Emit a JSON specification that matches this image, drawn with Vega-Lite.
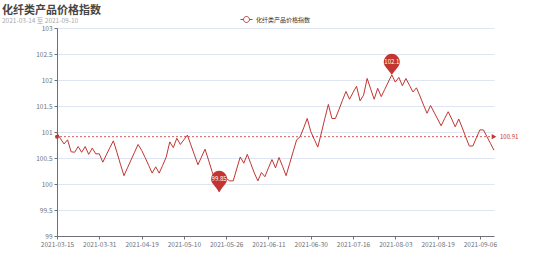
{
  "$schema": "https://vega.github.io/schema/vega-lite/v6.json",
  "width": 437,
  "height": 208,
  "autosize": {"type": "none"},
  "padding": {"left": 57, "top": 28, "right": 60, "bottom": 29},
  "background": "white",
  "config": {
    "font": "Noto Sans CJK SC",
    "view": {"stroke": null}
  },
  "title": {
    "text": "化纤类产品价格指数",
    "subtitle": "2021-03-14 至 2021-09-10",
    "anchor": "start",
    "frame": "group",
    "dx": -55,
    "dy": 15,
    "offset": 4,
    "fontSize": 11,
    "fontWeight": "bold",
    "color": "#464646",
    "subtitleFontSize": 6.5,
    "subtitleColor": "#aaaaaa",
    "subtitlePadding": 2,
    "font": "Noto Sans CJK SC",
    "subtitleFont": "Noto Sans CJK SC"
  },
  "datasets": {
    "series": [
      {"d":"2021-03-15","v":100.98},{"d":"2021-03-16","v":100.87},{"d":"2021-03-17","v":100.77},{"d":"2021-03-18","v":100.85},{"d":"2021-03-19","v":100.62},
      {"d":"2021-03-22","v":100.61},{"d":"2021-03-23","v":100.72},{"d":"2021-03-24","v":100.61},{"d":"2021-03-25","v":100.72},{"d":"2021-03-26","v":100.57},
      {"d":"2021-03-29","v":100.69},{"d":"2021-03-30","v":100.58},{"d":"2021-03-31","v":100.58},{"d":"2021-04-01","v":100.42},{"d":"2021-04-02","v":100.56},
      {"d":"2021-04-06","v":100.70},{"d":"2021-04-07","v":100.83},{"d":"2021-04-08","v":100.61},{"d":"2021-04-09","v":100.38},{"d":"2021-04-12","v":100.16},
      {"d":"2021-04-13","v":100.31},{"d":"2021-04-14","v":100.46},{"d":"2021-04-15","v":100.61},{"d":"2021-04-16","v":100.76},{"d":"2021-04-19","v":100.65},
      {"d":"2021-04-20","v":100.51},{"d":"2021-04-21","v":100.36},{"d":"2021-04-22","v":100.21},{"d":"2021-04-23","v":100.33},{"d":"2021-04-26","v":100.21},
      {"d":"2021-04-27","v":100.36},{"d":"2021-04-28","v":100.52},{"d":"2021-04-29","v":100.81},{"d":"2021-04-30","v":100.70},{"d":"2021-05-06","v":100.88},
      {"d":"2021-05-07","v":100.76},{"d":"2021-05-10","v":100.85},{"d":"2021-05-11","v":100.94},{"d":"2021-05-12","v":100.75},{"d":"2021-05-13","v":100.56},
      {"d":"2021-05-14","v":100.37},{"d":"2021-05-17","v":100.52},{"d":"2021-05-18","v":100.67},{"d":"2021-05-19","v":100.46},{"d":"2021-05-20","v":100.24},
      {"d":"2021-05-21","v":100.04},{"d":"2021-05-24","v":99.85},{"d":"2021-05-25","v":99.98},{"d":"2021-05-26","v":100.11},{"d":"2021-05-27","v":100.06},
      {"d":"2021-05-28","v":100.06},{"d":"2021-05-31","v":100.29},{"d":"2021-06-01","v":100.52},{"d":"2021-06-02","v":100.40},{"d":"2021-06-03","v":100.57},
      {"d":"2021-06-04","v":100.39},{"d":"2021-06-07","v":100.21},{"d":"2021-06-08","v":100.06},{"d":"2021-06-09","v":100.22},{"d":"2021-06-10","v":100.14},
      {"d":"2021-06-11","v":100.31},{"d":"2021-06-15","v":100.47},{"d":"2021-06-16","v":100.31},{"d":"2021-06-17","v":100.51},{"d":"2021-06-18","v":100.34},
      {"d":"2021-06-21","v":100.16},{"d":"2021-06-22","v":100.39},{"d":"2021-06-23","v":100.62},{"d":"2021-06-24","v":100.85},{"d":"2021-06-25","v":100.91},
      {"d":"2021-06-28","v":101.08},{"d":"2021-06-29","v":101.26},{"d":"2021-06-30","v":101.01},{"d":"2021-07-01","v":100.86},{"d":"2021-07-02","v":100.71},
      {"d":"2021-07-05","v":100.98},{"d":"2021-07-06","v":101.26},{"d":"2021-07-07","v":101.53},{"d":"2021-07-08","v":101.26},{"d":"2021-07-09","v":101.26},
      {"d":"2021-07-12","v":101.43},{"d":"2021-07-13","v":101.61},{"d":"2021-07-14","v":101.78},{"d":"2021-07-15","v":101.63},{"d":"2021-07-16","v":101.76},
      {"d":"2021-07-19","v":101.88},{"d":"2021-07-20","v":101.60},{"d":"2021-07-21","v":101.71},{"d":"2021-07-22","v":102.03},{"d":"2021-07-23","v":101.83},
      {"d":"2021-07-26","v":101.63},{"d":"2021-07-27","v":101.84},{"d":"2021-07-28","v":101.68},{"d":"2021-07-29","v":101.82},{"d":"2021-07-30","v":101.96},
      {"d":"2021-08-02","v":102.1},{"d":"2021-08-03","v":101.96},{"d":"2021-08-04","v":102.05},{"d":"2021-08-05","v":101.89},{"d":"2021-08-06","v":102.03},
      {"d":"2021-08-09","v":101.90},{"d":"2021-08-10","v":101.77},{"d":"2021-08-11","v":101.85},{"d":"2021-08-12","v":101.69},{"d":"2021-08-13","v":101.52},
      {"d":"2021-08-16","v":101.36},{"d":"2021-08-17","v":101.51},{"d":"2021-08-18","v":101.38},{"d":"2021-08-19","v":101.25},{"d":"2021-08-20","v":101.12},
      {"d":"2021-08-23","v":101.26},{"d":"2021-08-24","v":101.39},{"d":"2021-08-25","v":101.25},{"d":"2021-08-26","v":101.10},{"d":"2021-08-27","v":101.25},
      {"d":"2021-08-30","v":101.08},{"d":"2021-08-31","v":100.90},{"d":"2021-09-01","v":100.73},{"d":"2021-09-02","v":100.73},{"d":"2021-09-03","v":100.89},
      {"d":"2021-09-06","v":101.04},{"d":"2021-09-07","v":101.04},{"d":"2021-09-08","v":100.91},{"d":"2021-09-09","v":100.78},{"d":"2021-09-10","v":100.65}
    ],
    "avgline": [
      {"d": "2021-03-15", "v": 100.91, "role": "start"},
      {"d": "2021-09-10", "v": 100.91, "role": "end"}
    ]
  },
  "data": {"name": "series"},
  "encoding": {
    "x": {
      "field": "d",
      "type": "ordinal",
      "scale": {"type": "point", "padding": 0},
      "axis": {
        "title": null,
        "values": ["2021-03-15","2021-03-31","2021-04-19","2021-05-10","2021-05-26","2021-06-11","2021-06-30","2021-07-16","2021-08-03","2021-08-19","2021-09-06"],
        "labelAngle": 0,
        "labelFontSize": 6.5,
        "labelColor": "#6E7079",
        "labelPadding": 2,
        "labelOverlap": false,
        "tickSize": 3,
        "tickColor": "#6E7079",
        "domainColor": "#6E7079",
        "grid": false
      }
    },
    "y": {
      "field": "v",
      "type": "quantitative",
      "scale": {"domain": [99, 103], "nice": false, "zero": false},
      "axis": {
        "title": null,
        "values": [99, 99.5, 100, 100.5, 101, 101.5, 102, 102.5, 103],
        "format": ".1~f",
        "labelFontSize": 6.5,
        "labelColor": "#6E7079",
        "labelPadding": 2,
        "labelOverlap": false,
        "tickSize": 3,
        "tickColor": "#6E7079",
        "domainColor": "#6E7079",
        "gridColor": "#E0E6F1",
        "gridWidth": 1
      }
    }
  },
  "layer": [
    {
      "mark": {"type": "line", "strokeWidth": 1, "interpolate": "linear"},
      "encoding": {
        "color": {
          "datum": "化纤类产品价格指数",
          "type": "nominal",
          "scale": {"range": ["#c23531"]},
          "legend": {
            "title": null,
            "orient": "none",
            "legendX": 183,
            "legendY": -15,
            "symbolType": "M-1,0H-0.5M0.5,0H1M0.5,0A0.5,0.5 0 1 1 -0.5,0A0.5,0.5 0 1 1 0.5,0",
            "symbolSize": 144,
            "symbolFillColor": "#ffffff",
            "symbolStrokeColor": "#c23531",
            "symbolStrokeWidth": 1,
            "labelFontSize": 6,
            "labelColor": "#333333",
            "labelOffset": 3
          }
        }
      }
    },
    {
      "data": {"name": "avgline"},
      "transform": [{"filter": "datum.role === 'start'"}],
      "mark": {"type": "rule", "color": "#c23531", "strokeDash": [2, 2], "strokeWidth": 1, "opacity": 0.8},
      "encoding": {
        "x": null
      }
    },
    {
      "data": {"name": "avgline"},
      "transform": [{"filter": "datum.role === 'start'"}],
      "mark": {"type": "point", "shape": "circle", "filled": true, "color": "#c23531", "size": 16, "opacity": 1},
      "encoding": {}
    },
    {
      "data": {"name": "avgline"},
      "transform": [{"filter": "datum.role === 'end'"}],
      "mark": {"type": "point", "shape": "triangle-right", "filled": true, "color": "#c23531", "size": 28, "opacity": 1},
      "encoding": {}
    },
    {
      "data": {"name": "avgline"},
      "transform": [{"filter": "datum.role === 'end'"}],
      "mark": {"type": "text", "align": "left", "baseline": "middle", "dx": 6, "fontSize": 6, "color": "#c23531"},
      "encoding": {
        "text": {"field": "v", "type": "quantitative", "format": ".2f"}
      }
    },
    {
      "transform": [
        {"joinaggregate": [{"op": "max", "field": "v", "as": "vmax"}, {"op": "min", "field": "v", "as": "vmin"}]},
        {"filter": "datum.v === datum.vmax || datum.v === datum.vmin"}
      ],
      "mark": {"type": "point", "shape": "M0,0L-0.63,-0.81A0.8,0.8 0 1 1 0.63,-0.81Z", "filled": true, "color": "#c23531", "size": 400, "opacity": 1, "strokeWidth": 0},
      "encoding": {}
    },
    {
      "transform": [
        {"joinaggregate": [{"op": "max", "field": "v", "as": "vmax"}, {"op": "min", "field": "v", "as": "vmin"}]},
        {"filter": "datum.v === datum.vmax || datum.v === datum.vmin"}
      ],
      "mark": {"type": "text", "align": "center", "baseline": "middle", "dy": -13, "fontSize": 6, "color": "#ffffff"},
      "encoding": {
        "text": {"field": "v", "type": "nominal"}
      }
    }
  ]
}
